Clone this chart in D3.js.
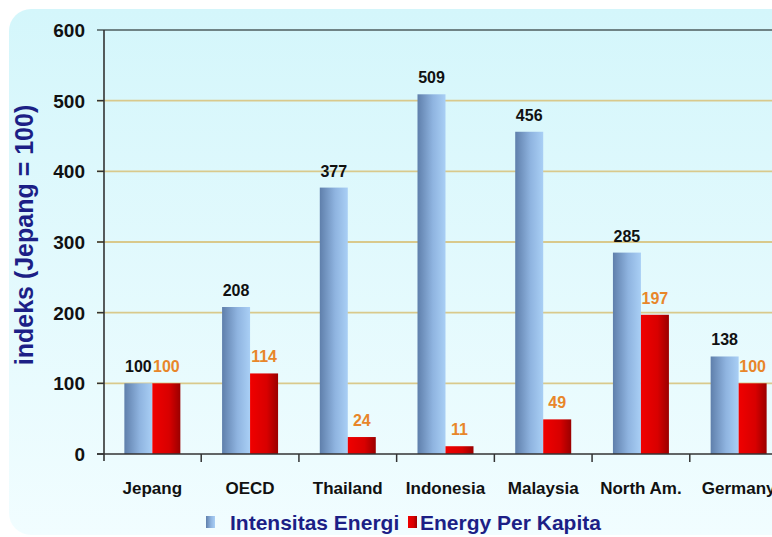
<!DOCTYPE html>
<html lang="en">
<head>
    <meta charset="UTF-8">
    <title>Indeks Intensitas Energi</title>
    <script src="https://d3js.org/d3.v7.min.js"></script>
    <style>
        body {
            margin: 0;
            background-color: #ffffff;
            font-family: "Liberation Sans", Arial, sans-serif;
        }
        svg text {
            font-weight: bold;
        }
    </style>
</head>
<body>
    <svg id="chart" width="772" height="537"></svg>

    <script>
        // Data
        const categories = ["Jepang", "OECD", "Thailand", "Indonesia", "Malaysia", "North Am.", "Germany"];
        const intensitas = [100, 208, 377, 509, 456, 285, 138];
        const perKapita = [100, 114, 24, 11, 49, 197, 100];
        const seriesNames = ["Intensitas Energi", "Energy Per Kapita"];
        const yTicks = [0, 100, 200, 300, 400, 500, 600];

        const svg = d3.select("#chart");
        const defs = svg.append("defs");

        // Background panel gradient
        const bg = defs.append("linearGradient")
            .attr("id", "bgGrad")
            .attr("x1", 0).attr("y1", 0).attr("x2", 0).attr("y2", 1);
        bg.append("stop").attr("offset", "0%").attr("stop-color", "#d4f6fb");
        bg.append("stop").attr("offset", "100%").attr("stop-color", "#f1fdff");

        // Bar gradients (horizontal, to mimic the 3D look)
        const blueGrad = defs.append("linearGradient")
            .attr("id", "blueGrad")
            .attr("x1", 0).attr("y1", 0).attr("x2", 1).attr("y2", 0);
        blueGrad.append("stop").attr("offset", "0%").attr("stop-color", "#5f7fab");
        blueGrad.append("stop").attr("offset", "55%").attr("stop-color", "#8fb4e0");
        blueGrad.append("stop").attr("offset", "100%").attr("stop-color", "#a9cff5");

        const redGrad = defs.append("linearGradient")
            .attr("id", "redGrad")
            .attr("x1", 0).attr("y1", 0).attr("x2", 1).attr("y2", 0);
        redGrad.append("stop").attr("offset", "0%").attr("stop-color", "#f00000");
        redGrad.append("stop").attr("offset", "60%").attr("stop-color", "#d80000");
        redGrad.append("stop").attr("offset", "100%").attr("stop-color", "#9a0000");

        svg.append("rect")
            .attr("x", 9)
            .attr("y", 9)
            .attr("width", 790)
            .attr("height", 526)
            .attr("rx", 22)
            .attr("fill", "url(#bgGrad)");

        // Scales
        const y = d3.scaleLinear()
            .domain([0, 600])
            .range([454, 30]);

        const x = d3.scaleBand()
            .domain(categories)
            .range([103.5, 787.5])
            .paddingInner(0.427)
            .paddingOuter(0.2135);

        const x1 = d3.scaleBand()
            .domain(seriesNames)
            .range([0, x.bandwidth()]);

        const plotRight = 772;

        // Gridlines
        svg.append("g")
            .selectAll("line")
            .data(yTicks.filter(d => d > 0))
            .enter()
            .append("line")
            .attr("x1", 97)
            .attr("x2", plotRight)
            .attr("y1", d => y(d))
            .attr("y2", d => y(d))
            .attr("stroke", d => d === 600 ? "#4d5c5e" : "#d9c98c")
            .attr("stroke-width", d => d === 600 ? 1.6 : 1.8);

        // Y axis tick labels
        svg.append("g")
            .selectAll("text")
            .data(yTicks)
            .enter()
            .append("text")
            .attr("x", 85)
            .attr("y", d => y(d))
            .attr("dy", "0.36em")
            .attr("text-anchor", "end")
            .style("font-size", "19px")
            .attr("fill", "#111")
            .text(d => d);

        // Y axis tick marks
        svg.append("g")
            .selectAll("line")
            .data(yTicks.filter(d => d < 600))
            .enter()
            .append("line")
            .attr("x1", 97)
            .attr("x2", 104)
            .attr("y1", d => y(d))
            .attr("y2", d => y(d))
            .attr("stroke", "#333")
            .attr("stroke-width", 1.5);

        // Bars
        const groups = svg.append("g")
            .selectAll("g")
            .data(categories.map((c, i) => ({ cat: c, values: [intensitas[i], perKapita[i]] })))
            .enter()
            .append("g")
            .attr("transform", d => `translate(${x(d.cat)},0)`);

        groups.selectAll("rect")
            .data(d => d.values.map((v, j) => ({ series: seriesNames[j], value: v })))
            .enter()
            .append("rect")
            .attr("x", d => x1(d.series))
            .attr("width", x1.bandwidth())
            .attr("y", d => y(d.value))
            .attr("height", d => y(0) - y(d.value))
            .attr("fill", d => d.series === seriesNames[0] ? "url(#blueGrad)" : "url(#redGrad)");

        // Value labels
        groups.selectAll("text")
            .data(d => d.values.map((v, j) => ({ series: seriesNames[j], value: v })))
            .enter()
            .append("text")
            .attr("x", d => x1(d.series) + x1.bandwidth() / 2)
            .attr("y", d => y(d.value) - 11)
            .attr("text-anchor", "middle")
            .style("font-size", "16px")
            .attr("fill", d => d.series === seriesNames[0] ? "#111111" : "#e8862a")
            .text(d => d.value);

        // Axes lines
        svg.append("line")
            .attr("x1", 104).attr("x2", 104)
            .attr("y1", 30).attr("y2", 461)
            .attr("stroke", "#333").attr("stroke-width", 1.6);

        svg.append("line")
            .attr("x1", 97).attr("x2", plotRight)
            .attr("y1", y(0)).attr("y2", y(0))
            .attr("stroke", "#333").attr("stroke-width", 1.6);

        // X tick marks at category boundaries
        svg.append("g")
            .selectAll("line")
            .data(categories.slice(1))
            .enter()
            .append("line")
            .attr("x1", d => x(d) - x.step() * x.paddingInner() / 2)
            .attr("x2", d => x(d) - x.step() * x.paddingInner() / 2)
            .attr("y1", y(0))
            .attr("y2", y(0) + 8)
            .attr("stroke", "#333")
            .attr("stroke-width", 1.5);

        // Category labels
        svg.append("g")
            .selectAll("text")
            .data(categories)
            .enter()
            .append("text")
            .attr("x", d => x(d) + x.bandwidth() / 2)
            .attr("y", 494)
            .attr("text-anchor", "middle")
            .style("font-size", "17px")
            .attr("fill", "#111")
            .text(d => d);

        // Y axis title
        svg.append("text")
            .attr("transform", "translate(33,235) rotate(-90)")
            .attr("text-anchor", "middle")
            .style("font-size", "25px")
            .attr("fill", "#1c1f86")
            .text("indeks (Jepang = 100)");

        // Legend
        const legendItems = [
            { name: seriesNames[0], fill: "url(#blueGrad)", sx: 206, tx: 230 },
            { name: seriesNames[1], fill: "url(#redGrad)", sx: 408, tx: 420 }
        ];

        const legend = svg.append("g");
        legend.selectAll("rect")
            .data(legendItems)
            .enter()
            .append("rect")
            .attr("x", d => d.sx)
            .attr("y", 516)
            .attr("width", 9)
            .attr("height", 12)
            .attr("fill", d => d.fill);

        legend.selectAll("text")
            .data(legendItems)
            .enter()
            .append("text")
            .attr("x", d => d.tx)
            .attr("y", 530)
            .style("font-size", "21px")
            .attr("fill", "#1c1f86")
            .text(d => d.name);
    </script>
</body>
</html>
